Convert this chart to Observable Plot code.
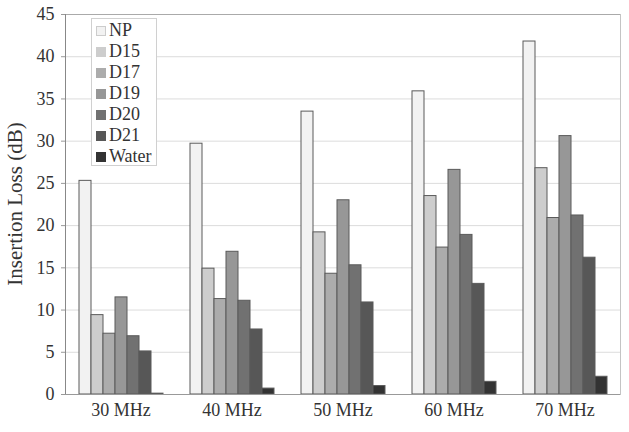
<!DOCTYPE html>
<html>
<head>
<meta charset="utf-8">
<script src="https://cdn.jsdelivr.net/npm/d3@7"></script>
<script src="https://cdn.jsdelivr.net/npm/@observablehq/plot@0.6"></script>
<style>
  body { margin: 0; background: #fff; }
  #wrap { position: relative; width: 629px; height: 432px; font-family: "Liberation Serif", "Times New Roman", serif; }
  #legend { position: absolute; left: 91px; top: 18px; width: 66px; height: 148px; border: 1px solid #d0d0d0; background: #fff; box-sizing: border-box; padding-top: 1px; }
  .item { display: flex; align-items: center; height: 21px; font-size: 18px; color: #333; }
  .sw { width: 10px; height: 10px; margin-left: 4px; margin-right: 3px; box-sizing: border-box; border: 1px solid #888; }
</style>
</head>
<body>
<div id="wrap"></div>
<script>
const freqs = ["30 MHz", "40 MHz", "50 MHz", "60 MHz", "70 MHz"];
const series = ["NP", "D15", "D17", "D19", "D20", "D21", "Water"];
const colors = ["#f2f2f2", "#cdcdcd", "#acacac", "#979797", "#717171", "#575757", "#333333"];
const values = {
  "NP":    [25.3, 29.7, 33.5, 35.9, 41.8],
  "D15":   [9.4, 14.9, 19.2, 23.5, 26.8],
  "D17":   [7.2, 11.3, 14.3, 17.4, 20.9],
  "D19":   [11.5, 16.9, 23.0, 26.6, 30.6],
  "D20":   [6.9, 11.1, 15.3, 18.9, 21.2],
  "D21":   [5.1, 7.7, 10.9, 13.1, 16.2],
  "Water": [0.1, 0.7, 1.0, 1.5, 2.1]
};
const yTicks = [0, 5, 10, 15, 20, 25, 30, 35, 40, 45];

const data = [];
freqs.forEach((f, i) => series.forEach(s => data.push({freq: f, series: s, value: values[s][i]})));

const font = "Liberation Serif, Times New Roman, serif";
const chart = Plot.plot({
  width: 629,
  height: 432,
  marginLeft: 63,
  marginRight: 7,
  marginTop: 14,
  marginBottom: 38,
  style: {fontFamily: font, fontSize: "18px", color: "#333", background: "#fff"},
  fx: {domain: freqs, padding: 0, label: null},
  x: {domain: series, paddingInner: 0, paddingOuter: 0.79, axis: null},
  y: {domain: [0, 45], ticks: yTicks, label: null},
  color: {domain: series, range: colors},
  marks: [
    Plot.gridY(yTicks, {stroke: "#dcdcdc", strokeOpacity: 1}),
    Plot.ruleY([45], {stroke: "#aaa"}),
    Plot.frame({fx: ["70 MHz"], anchor: "right", stroke: "#c4c4c4"}),
    Plot.frame({fx: ["30 MHz"], anchor: "left", stroke: "#888"}),
    Plot.barY(data, {fx: "freq", x: "series", y: "value", fill: "series", stroke: "#5a5a5a", strokeWidth: 1}),
    Plot.ruleY([0], {stroke: "#999"}),
    Plot.axisY({ticks: yTicks, tickSize: 4, tickPadding: 7, stroke: "#999", label: null, fontSize: 18, fontFamily: font}),
    Plot.axisFx({anchor: "bottom", tickSize: 0, tickPadding: 9, label: null, fontSize: 18, fontFamily: font})
  ]
});

const wrap = document.getElementById("wrap");
wrap.appendChild(chart);

// Y axis title
const yl = document.createElementNS("http://www.w3.org/2000/svg", "text");
yl.setAttribute("transform", "translate(17,204) rotate(-90)");
yl.setAttribute("text-anchor", "middle");
yl.setAttribute("dominant-baseline", "middle");
yl.setAttribute("font-size", "21px");
yl.setAttribute("font-family", font);
yl.setAttribute("fill", "#333");
yl.textContent = "Insertion Loss (dB)";
chart.appendChild(yl);

// Legend
const lg = document.createElement("div");
lg.id = "legend";
series.forEach((s, i) => {
  const it = document.createElement("div");
  it.className = "item";
  const sw = document.createElement("span");
  sw.className = "sw";
  sw.style.background = colors[i];
  sw.style.borderColor = i === 0 ? "#ccc" : colors[i];
  const t = document.createElement("span");
  t.textContent = s;
  it.appendChild(sw); it.appendChild(t);
  lg.appendChild(it);
});
wrap.appendChild(lg);
</script>
</body>
</html>
